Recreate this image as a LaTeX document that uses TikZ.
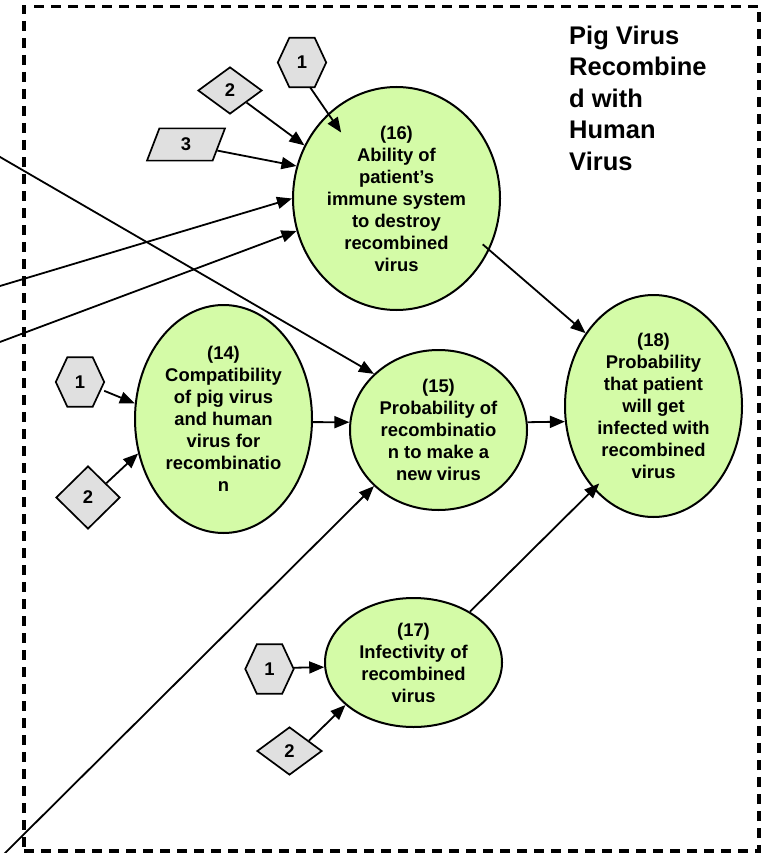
\documentclass[tikz,border=0pt]{standalone}
\usepackage{fontspec}
\setmainfont{Liberation Sans}
\usetikzlibrary{shapes.geometric,arrows.meta,calc,backgrounds}
\definecolor{nodegreen}{RGB}{212,251,167}
\definecolor{taggray}{RGB}{224,224,224}
% hexagonal outline around a (borderless) rectangular label node
\newcommand\drawhexagon[1]{%
  \draw[hexoutline] (#1.west) -- ([xshift=11.5pt]#1.north west)
    -- ([xshift=-11.5pt]#1.north east) -- (#1.east)
    -- ([xshift=-11.5pt]#1.south east) -- ([xshift=11.5pt]#1.south west) -- cycle;}
\begin{document}
\begin{tikzpicture}[x=1pt,y=-1pt,
  factor/.style={ellipse, draw, line width=2pt, fill=nodegreen, inner sep=0pt,
    align=center, font=\fontsize{18.4}{22}\selectfont\bfseries},
  tagtext/.style={inner sep=0pt, font=\fontsize{18.4}{22}\selectfont\bfseries},
  hexbox/.style={tagtext, minimum width=48pt, minimum height=49pt},
  tagdiamond/.style={tagtext, diamond, draw, line width=1.7pt, fill=taggray},
  tagpara/.style={tagtext, trapezium, trapezium left angle=69, trapezium right angle=111,
    inner xsep=21.5pt, inner ysep=9.6pt, draw, line width=1.7pt, fill=taggray},
  hexoutline/.style={draw, line width=1.7pt, fill=taggray},
  link/.style={line width=1.8pt, -{Triangle[length=15pt,width=12pt]}},
  groupframe/.style={draw, line width=3.4pt, dash pattern=on 10pt off 7pt},
  title/.style={align=left, inner sep=0pt, font=\fontsize{25.5}{31.5}\selectfont\bfseries}
]
\useasboundingbox (0,0) rectangle (766,853);

% group frame and its title
\node[groupframe, minimum width=735pt, minimum height=844.5pt] (grp) at (391.5,428.75) {};
\node[title, anchor=north west] (ttl) at (569,25.5) {Pig Virus\\Recombine\\d with\\Human\\Virus};

% model factors
\node[factor, minimum width=207pt, minimum height=223pt] (n16) at (396.5,198.5)
  {(16)\\Ability of\\patient’s\\immune system\\to destroy\\recombined\\virus};
\node[factor, minimum width=177pt, minimum height=228pt] (n14) at (223.5,419)
  {(14)\\Compatibility\\of pig virus\\and human\\virus for\\recombinatio\\n};
\node[factor, minimum width=177pt, minimum height=160pt] (n15) at (438.5,430)
  {(15)\\Probability of\\recombinatio\\n to make a\\new virus};
\node[factor, minimum width=177pt, minimum height=222pt] (n18) at (653.5,406)
  {(18)\\Probability\\that patient\\will get\\infected with\\recombined\\virus};
\node[factor, minimum width=177pt, minimum height=129pt] (n17) at (413.5,662.5)
  {(17)\\Infectivity of\\recombined\\virus};

% input tags
\node[hexbox] (h1) at (302,62.5) {1};
\node[hexbox] (h1b) at (80,382) {1};
\node[hexbox] (h1c) at (269.5,669) {1};
\node[tagdiamond, minimum width=64pt, minimum height=47pt] (d2) at (230,90.5) {2};
\node[tagdiamond, minimum width=64pt, minimum height=63pt] (d2b) at (88,497.5) {2};
\node[tagdiamond, minimum width=65pt, minimum height=48pt] (d2c) at (289.5,751) {2};
\node[tagpara] (p3) at (186,144.5) {3};

\begin{scope}[on background layer]
  \drawhexagon{h1}
  \drawhexagon{h1b}
  \drawhexagon{h1c}
\end{scope}

% links arriving from outside the group
\coordinate (ext1) at (-6,287.8);
\coordinate (ext2) at (-6,344.2);
\coordinate (ext3) at (-6,153.5);
\coordinate (ext4) at (-4,862);

\draw[link] (h1.-72) -- ($(n16.center)!0.79!(n16.130)$);
\draw[link] (d2.-36) -- (n16.150);
\draw[link] (p3.-11) -- (n16.162);
\draw[link] (ext1) -- (n16.180);
\draw[link] (ext2) -- (n16.198);
\draw[link] (ext3) -- (n15.139);
\draw[link] (ext4) -- (n15.221);
\draw[link] (h1b.-20) -- (n14.170);
\draw[link] (d2b.38) -- (n14.202);
\draw[link] (n14.-2) -- (n15.175);
\draw[link] (n15.5) -- (n18.190);
\draw[link] ($(n16.center)!0.92!(n16.-28)$) -- (n18.133);
\draw[link] (n17.42) -- ($(n18.center)!0.92!(n18.235)$);
\draw[link] (h1c.3) -- (n17.183);
\draw[link] (d2c.28) -- (n17.212);
\end{tikzpicture}
\end{document}
